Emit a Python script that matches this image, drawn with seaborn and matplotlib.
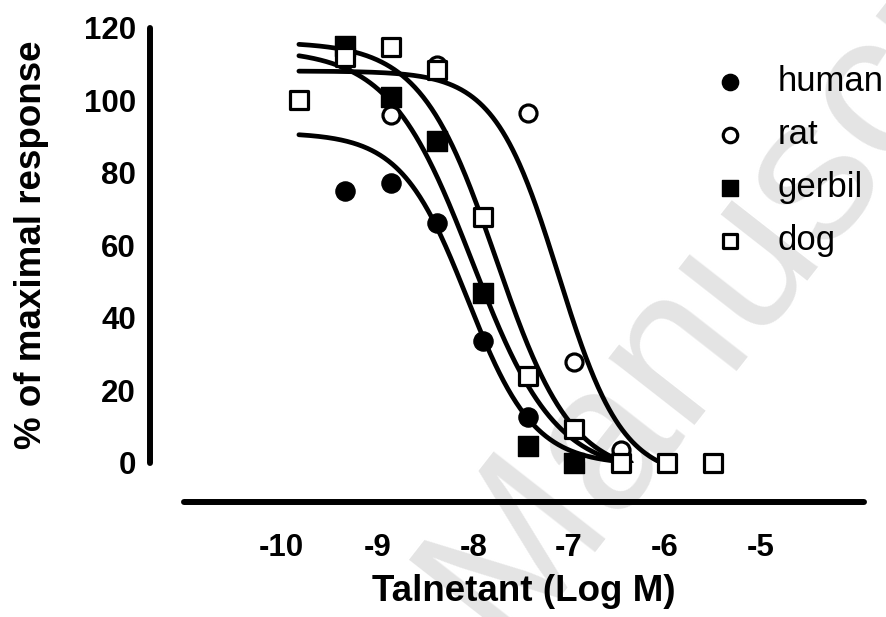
import numpy as np
import pandas as pd
import matplotlib
matplotlib.use("Agg")
import matplotlib.pyplot as plt
import seaborn as sns

# measured points (log M, % of maximal response)
human_x = [-9.34, -8.86, -8.38, -7.90, -7.43]
human_y = [75.0, 77.2, 66.2, 33.6, 12.6]

rat_x = [-9.34, -8.86, -8.38, -7.43, -6.95, -6.46]
rat_y = [111.0, 96.0, 109.8, 96.5, 27.8, 3.5]

gerbil_x = [-9.34, -8.86, -8.38, -7.90, -7.43, -6.95]
gerbil_y = [115.0, 100.7, 88.8, 46.8, 4.6, 0.0]

dog_x = [-9.82, -9.34, -8.86, -8.38, -7.90, -7.43, -6.95, -6.46, -5.98, -5.50]
dog_y = [99.9, 112.0, 114.5, 108.4, 67.8, 23.9, 9.3, 0.0, 0.0, 0.0]

# fitted sigmoid parameters: top, bottom, logEC50, hill
human_fit = (91.0, -0.65, -8.06, 1.25)
rat_fit = (108.0, -4.4, -7.11, 1.3)
gerbil_fit = (114.0, -3.1, -8.01, 1.0)
dog_fit = (116.0, -3.8, -7.76, 1.1)

species = ["human", "rat", "gerbil", "dog"]
xticks = [-10, -9, -8, -7, -6, -5]
yticks = [0, 20, 40, 60, 80, 100, 120]


def sigmoid(x, top, bottom, logec50, hill):
    return bottom + (top - bottom) / (1 + 10 ** ((x - logec50) * hill))


sns.set_style("white")
plt.rcParams["font.family"] = ["Liberation Sans", "DejaVu Sans"]
for key in ["text.color", "axes.labelcolor", "xtick.color", "ytick.color"]:
    plt.rcParams[key] = "black"

fig = plt.figure(figsize=(8.87, 6.17), dpi=100)
ax = fig.add_axes([0.2074, 0.2502, 0.7666, 0.7052])
ax.set_zorder(1)
ax.patch.set_alpha(0)

# watermark behind the plot
fig.text(0.87, 0.645, "Manuscript", rotation=52, fontsize=148, color="#e4e4e4",
         ha="center", va="center", zorder=0)

series = [
    (human_x, human_y, human_fit, "o", "black", 1.0, 190),
    (rat_x, rat_y, rat_fit, "o", "white", 2.3, 150),
    (gerbil_x, gerbil_y, gerbil_fit, "s", "black", 1.0, 190),
    (dog_x, dog_y, dog_fit, "s", "white", 2.3, 150),
]

xmin = min(min(s[0]) for s in series)
xmax = max(max(s[0]) for s in series)
xs = np.linspace(xmin, xmax, 500)

for xv, yv, fit, mk, fc, lw, size in series:
    ys = sigmoid(xs, *fit)
    keep = ys >= 0  # curve stops where it reaches the axis floor
    sns.lineplot(x=xs[keep], y=ys[keep], color="black", lw=3.4, ax=ax, zorder=2)

for name, (xv, yv, fit, mk, fc, lw, size) in zip(species, series):
    df = pd.DataFrame({"x": xv, "y": yv})
    sns.scatterplot(data=df, x="x", y="y", marker=mk, s=size, facecolor=fc,
                    edgecolor="black", linewidth=lw, label=name, ax=ax,
                    zorder=3, clip_on=False)

ax.set_xlim(-11.02, -3.92)
ax.set_ylim(0, 120)
ax.set_xticks(xticks)
ax.set_yticks(yticks)
ax.set_xticklabels([str(t) for t in xticks])

sns.despine(ax=ax)
ax.spines["left"].set_position(("outward", 24.5))
ax.spines["bottom"].set_position(("outward", 28.4))
for sp in ["left", "bottom"]:
    ax.spines[sp].set_linewidth(4.3)
    ax.spines[sp].set_color("black")
    ax.spines[sp].set_capstyle("round")

ax.tick_params(axis="both", which="major", direction="out", length=7, width=3,
               color="black", labelsize=22.5, labelcolor="black")
ax.tick_params(axis="x", pad=15)
ax.tick_params(axis="y", pad=3)
for lab in ax.get_xticklabels() + ax.get_yticklabels():
    lab.set_fontweight("bold")

ax.set_xlabel("Talnetant (Log M)", fontsize=26.5, fontweight="bold", labelpad=8)
ax.set_ylabel("% of maximal response", fontsize=26.5, fontweight="bold", labelpad=25)

leg = ax.legend(loc="upper left", bbox_to_anchor=(713 / 887, 1 - 65 / 617),
                bbox_transform=fig.transFigure, frameon=False, fontsize=25,
                handlelength=1.0, handletextpad=0.85, labelspacing=0.58,
                markerscale=0.85, borderaxespad=0, borderpad=0)
for t in leg.get_texts():
    t.set_color("black")

fig.savefig("out.png", dpi=100)
